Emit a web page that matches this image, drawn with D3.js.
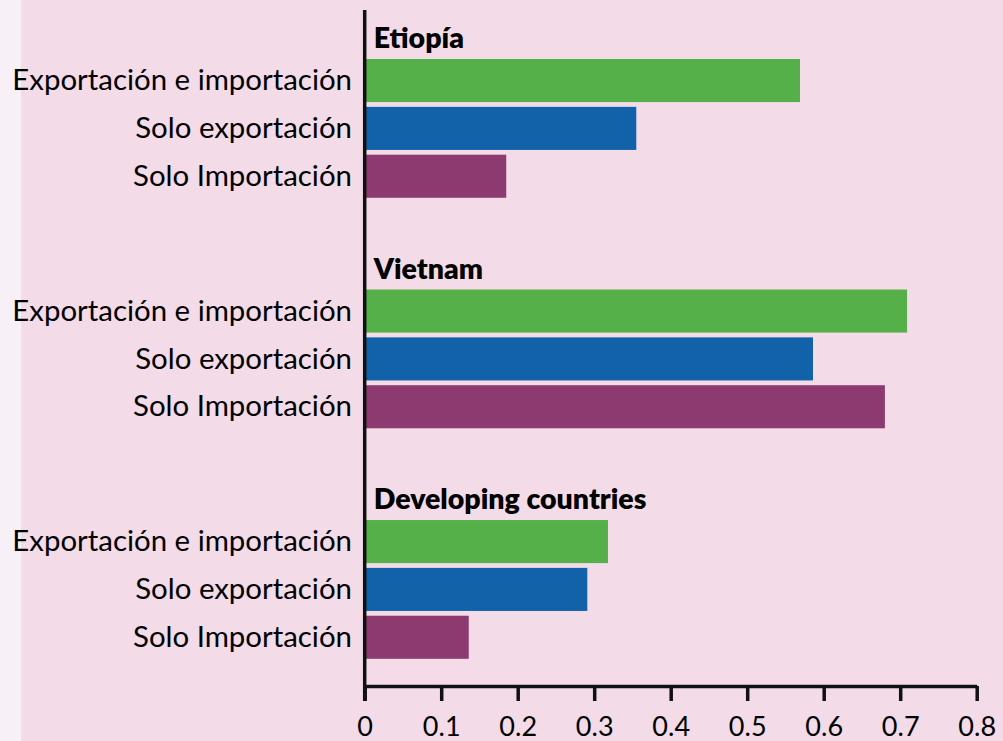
<!DOCTYPE html>
<html>
<head>
<meta charset="utf-8">
<script src="https://cdn.jsdelivr.net/npm/d3@7"></script>
<style>
  html, body { margin: 0; padding: 0; background: #f7f0f6; }
  svg { display: block; }
</style>
</head>
<body>
<svg id="chart" width="1003" height="741"></svg>
<script>
// ---- data ----
const groups = ["Etiopía", "Vietnam", "Developing countries"];
const series = ["Exportación e importación", "Solo exportación", "Solo Importación"];
const valuesEtiopia = [0.569, 0.355, 0.185];
const valuesVietnam = [0.709, 0.586, 0.680];
const valuesDeveloping = [0.318, 0.291, 0.136];
const xTicks = [0, 0.1, 0.2, 0.3, 0.4, 0.5, 0.6, 0.7, 0.8];
const colors = ["#56b04a", "#1262a9", "#8c3a6f"];

const groupValues = [valuesEtiopia, valuesVietnam, valuesDeveloping];

const W = 1003, H = 741;
const svg = d3.select("#chart");

// background
svg.append("rect").attr("x", 0).attr("y", 0).attr("width", W).attr("height", H).attr("fill", "#f7f0f6");
svg.append("rect").attr("x", 21).attr("y", 0).attr("width", W - 21).attr("height", H).attr("fill", "#f3dbe8");

const x = d3.scaleLinear().domain([0, 0.8]).range([364.7, 976.7]);
const yGroup = d3.scaleBand().domain(groups).range([59, 658.8]).paddingInner(0.398).paddingOuter(0);
const ySeries = d3.scaleBand().domain(series).range([0, yGroup.bandwidth()]).paddingInner(0.1).paddingOuter(0);

const fontFamily = "Lato, 'Noto Sans', sans-serif";

groups.forEach((g, gi) => {
  const gy = yGroup(g);
  const gEl = svg.append("g").attr("transform", `translate(0,${gy})`);
  // group title
  gEl.append("text")
    .attr("x", x(0) + 9)
    .attr("y", -11)
    .attr("font-family", fontFamily)
    .attr("font-weight", 800)
    .attr("font-size", 28.5)
    .attr("fill", "#000")
    .text(g);
  const data = series.map((s, i) => ({ s, v: groupValues[gi][i], c: colors[i] }));
  gEl.selectAll("rect.bar").data(data).join("rect")
    .attr("class", "bar")
    .attr("x", x(0))
    .attr("y", d => ySeries(d.s))
    .attr("width", d => x(d.v) - x(0))
    .attr("height", ySeries.bandwidth())
    .attr("fill", d => d.c);
  gEl.selectAll("text.lab").data(data).join("text")
    .attr("class", "lab")
    .attr("x", 352)
    .attr("y", d => ySeries(d.s) + ySeries.bandwidth() / 2)
    .attr("dy", "0.33em")
    .attr("text-anchor", "end")
    .attr("font-family", fontFamily)
    .attr("font-size", 29.4)
    .attr("fill", "#000")
    .text(d => d.s);
});

// x axis
const axisY = 686;
const xAxis = d3.axisBottom(x).tickValues(xTicks).tickSize(15).tickSizeOuter(0).tickPadding(16)
  .tickFormat(d => d === 0 ? "0" : d3.format(".1f")(d));
const ax = svg.append("g").attr("transform", `translate(0,${axisY})`).call(xAxis);
ax.select(".domain").attr("stroke", "#111").attr("stroke-width", 3.5);
ax.selectAll(".tick line").attr("stroke", "#111").attr("stroke-width", 3.5);
ax.selectAll(".tick text").attr("font-family", fontFamily).attr("font-size", 27).attr("fill", "#000");

// y axis line
svg.append("line")
  .attr("x1", x(0)).attr("x2", x(0))
  .attr("y1", 10).attr("y2", axisY + 15)
  .attr("stroke", "#111").attr("stroke-width", 3.5);
</script>
</body>
</html>
